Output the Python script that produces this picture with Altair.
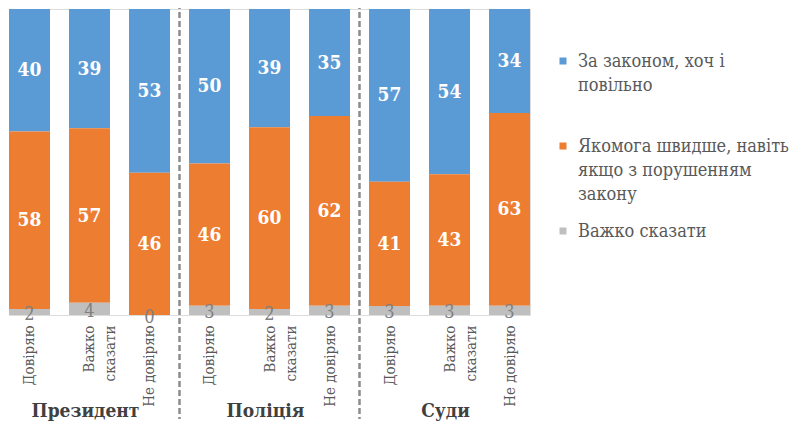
import altair as alt
import pandas as pd

groups = ["Президент", "Поліція", "Суди"]
trust = ["Довіряю", "Важко~сказати", "Не довіряю"]
series = [
    "За законом, хоч і~повільно",
    "Якомога швидше, навіть~якщо з порушенням~закону",
    "Важко сказати",
]
colors = ["#5B9BD5", "#ED7D31", "#BFBFBF"]
law = [40, 39, 53, 50, 39, 35, 57, 54, 34]
fast = [58, 57, 46, 46, 60, 62, 41, 43, 63]
hard = [2, 4, 0, 3, 2, 3, 3, 3, 3]

ids = [f"{g}|{t}" for g in groups for t in trust]
rows = []
for i, bid in enumerate(ids):
    for k, (s, vals) in enumerate(zip(series, [law, fast, hard])):
        rows.append({"id": bid, "series": s, "value": vals[i], "ord": 2 - k})
df = pd.DataFrame(rows)

sep_df = pd.DataFrame({"id": [f"{g}|{trust[0]}" for g in groups[1:]]})
grp_df = pd.DataFrame({"id": [f"{g}|{trust[1]}" for g in groups], "name": groups})

FONT = "DejaVu Serif Condensed"

xscale = alt.Scale(domain=ids, paddingInner=0.3167, paddingOuter=0)
xenc = alt.X(
    "id:N",
    scale=xscale,
    sort=ids,
    title=None,
    axis=alt.Axis(
        labelExpr="split(split(datum.value, '|')[1], '~')",
        labelAngle=-90,
        labelFontSize=15,
        labelFont=FONT,
        labelColor="#595959",
        labelPadding=10,
        labelLineHeight=21,
        labelOverlap=False,
        labelLimit=300,
        ticks=False,
        tickSize=0,
        domain=False,
        grid=False,
    ),
)

base = alt.Chart(df).transform_stack(
    stack="value", groupby=["id"], as_=["y0", "y1"], offset="normalize",
    sort=[alt.SortField("ord", order="ascending")],
).transform_calculate(mid="(datum.y0 + datum.y1) / 2")

yscale = alt.Scale(domain=[0, 1])

bars = base.mark_bar().encode(
    x=xenc,
    y=alt.Y("y0:Q", scale=yscale, axis=None),
    y2="y1:Q",
    color=alt.Color(
        "series:N",
        scale=alt.Scale(domain=series, range=colors),
        legend=alt.Legend(
            title=None,
            orient="none",
            legendX=545,
            legendY=49,
            labelExpr="split(datum.label, '~')",
            labelFont=FONT,
            labelFontSize=18,
            labelColor="#595959",
            labelBaseline="alphabetic",
            labelOffset=6,
            labelLimit=400,
            symbolType="M-0.7,-1.9H0.7V-0.5H-0.7Z",
            symbolSize=100,
            symbolStrokeWidth=0,
            gridAlign="all",
            rowPadding=19,
            padding=0,
        ),
    ),
)

txt = base.transform_filter(alt.datum.ord > 0).mark_text(
    font=FONT, fontSize=19, fontWeight="bold", color="white", baseline="middle"
).encode(
    x=alt.X("id:N", scale=xscale, sort=ids),
    y=alt.Y("mid:Q", scale=yscale),
    text="value:Q",
)

txt_gray = base.transform_filter(alt.datum.ord == 0).mark_text(
    font=FONT, fontSize=18, color="#7F7F7F", baseline="middle", dy=3
).encode(
    x=alt.X("id:N", scale=xscale, sort=ids),
    y=alt.Y("mid:Q", scale=yscale),
    text="value:Q",
)

seps = alt.Chart(sep_df).mark_rule(
    color="#8C8C8C", strokeWidth=2.5, strokeDash=[6, 3], xOffset=-9.5
).encode(
    x=alt.X("id:N", scale=xscale, sort=ids, bandPosition=0),
    y=alt.value(-6),
    y2=alt.value(410),
)

titles = alt.Chart(grp_df).mark_text(
    font=FONT, fontSize=19, fontWeight="bold", color="#404040", baseline="middle", dx=-4
).encode(
    x=alt.X("id:N", scale=xscale, sort=ids),
    y=alt.value(402),
    text="name:N",
)

chart = alt.layer(bars, txt, txt_gray, seps, titles).properties(
    width=521,
    height=306,
    autosize=alt.AutoSizeParams(type="none"),
    padding={"left": 1, "top": 1, "right": 262, "bottom": 116},
).configure_view(stroke=None).configure(style={"guide-label": {"lineHeight": 24}})

chart.save("out.html", embed_options={"renderer": "svg", "actions": False})
